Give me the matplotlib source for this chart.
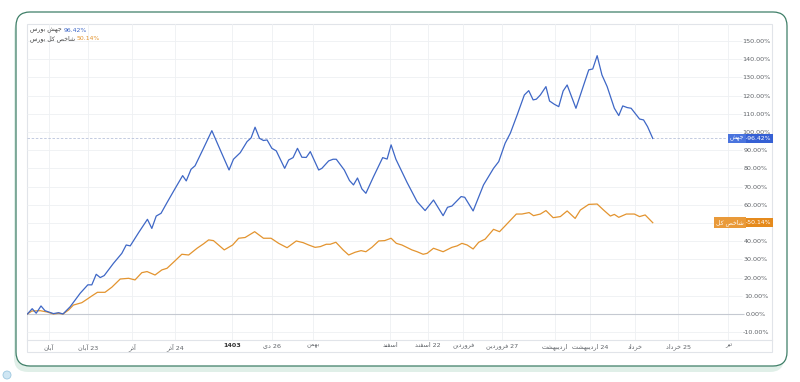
import matplotlib
matplotlib.use("Agg")
import matplotlib.pyplot as plt
from matplotlib.patches import FancyBboxPatch, Rectangle
import matplotlib.transforms as mtransforms

plt.rcParams['font.family'] = ['DejaVu Sans']

# ---------------- data (x = trading-bar index, y = % change) ----------------
jahesh_x = [0, 1.2, 2.2, 3.4, 4.4, 6.5, 7.8, 8.9, 10.7, 13.2, 15.1, 16.1, 17.2, 18.2, 19.2,
            21.5, 23.6, 24.7, 25.7, 27.8, 30.0, 31.1, 32.2, 33.4, 34.9, 36.7, 38.8, 39.7,
            40.9, 41.9, 43.9, 46.1, 48.2, 50.4, 51.5, 53.2, 54.9, 55.9, 56.9, 58.0, 59.0,
            59.9, 61.1, 62.2, 64.3, 65.3, 66.4, 67.5, 68.6, 69.7, 70.7, 72.8, 73.6, 75.3,
            76.4, 77.2, 79.2, 80.5, 81.5, 82.5, 83.6, 84.6, 86.5, 88.8, 89.9, 90.9, 92.1,
            94.9, 97.4, 99.4, 101.5, 103.9, 105.0, 106.1, 108.4, 109.3, 111.4, 114.0,
            116.5, 117.8, 119.4, 120.7, 122.4, 124.2, 125.3, 126.4, 127.2, 128.2, 129.6,
            130.5, 131.7, 132.8, 133.9, 134.9, 137.1, 138.9, 140.3, 141.3, 142.4, 143.6,
            144.9, 146.7, 147.8, 148.8, 149.9, 150.9, 153.0, 154.0, 155.0, 156.3]
jahesh_y = [0, 2.9, 0.4, 4.4, 1.8, 0.2, 0.7, 0, 4.0, 11.4, 16.0, 16.0, 21.8, 20.0, 21.1,
            27.8, 33.3, 37.9, 37.4, 44.7, 52.0, 47.0, 53.8, 55.3, 61.2, 68.1, 76.0, 73.1,
            79.5, 81.4, 90.5, 100.7, 90.1, 79.1, 85.0, 88.6, 94.7, 96.7, 102.6, 96.5, 95.3,
            95.6, 91.0, 89.6, 80.0, 84.6, 85.9, 91.0, 86.1, 86.0, 89.2, 79.1, 80.0, 84.1,
            85.0, 85.0, 79.1, 73.3, 70.9, 74.7, 68.7, 66.3, 75.4, 85.9, 85.1, 92.9, 85.0,
            72.2, 61.7, 56.8, 62.6, 54.0, 58.6, 59.3, 64.5, 64.1, 56.6, 70.9,
            80.0, 83.7, 93.8, 99.3, 109.3, 120.3, 122.7, 117.6, 118.0, 120.3, 124.9,
            117.0, 115.2, 113.9, 122.5, 125.8, 113.0, 124.9, 134.1, 134.6, 141.9, 131.3,
            124.9, 113.0, 109.0, 114.3, 113.4, 113.0, 107.1, 106.6, 102.9, 96.42]

shakhes_x = [0, 1.1, 3.2, 4.9, 6.5, 7.8, 8.9, 10.3, 11.5, 13.6, 14.9, 16.1, 17.5, 19.4,
             21.1, 23.2, 25.3, 26.9, 28.6, 29.9, 31.9, 33.6, 34.9, 36.7, 38.6, 40.3, 42.4,
             44.0, 45.3, 46.5, 49.2, 51.3, 52.8, 54.4, 56.8, 59.0, 60.9, 62.8, 64.9, 67.2,
             68.9, 70.3, 71.9, 73.2, 74.7, 75.7, 77.1, 78.9, 80.3, 81.9, 83.4, 84.6, 86.1,
             87.8, 89.3, 90.9, 92.2, 93.6, 96.1, 97.4, 98.9, 99.9, 101.5, 103.9, 106.1,
             107.4, 108.6, 109.9, 111.4, 112.8, 114.4, 116.5, 118.0, 119.4, 122.2, 123.6,
             125.4, 126.5, 128.2, 129.6, 131.4, 133.2, 134.9, 136.9, 138.2, 140.3, 142.4,
             144.0, 145.7, 146.7, 147.8, 149.7, 151.7, 153.0, 154.4, 156.3]
shakhes_y = [0, 1.6, 1.8, 1.1, 0, 0.4, 0, 2.2, 4.9, 6.2, 8.1, 9.9, 11.9, 11.9,
             14.7, 19.2, 19.6, 18.7, 22.7, 23.3, 21.4, 24.2, 25.1, 28.8, 32.8, 32.4, 36.1,
             38.5, 40.7, 40.3, 35.2, 37.9, 41.6, 42.0, 45.2, 41.6, 41.6, 38.8, 36.4, 40.1,
             39.2, 37.9, 36.6, 37.0, 38.3, 38.3, 39.4, 35.2, 32.4, 33.9, 34.8, 34.2, 36.6,
             40.1, 40.3, 41.6, 38.8, 37.9, 35.2, 34.2, 32.8, 33.3, 36.1, 34.2, 36.6,
             37.4, 38.8, 37.9, 35.7, 39.4, 41.1, 46.5, 45.2, 48.4, 54.9, 54.9,
             55.7, 54.0, 54.9, 56.8, 52.9, 53.5, 56.6, 52.5, 57.1, 60.2, 60.4,
             57.1, 53.8, 54.7, 53.1, 54.9, 54.9, 53.5, 54.4, 50.14]

tick_pos = [5.4, 15.2, 26.2, 36.9, 51.2, 61.2, 71.4, 90.7, 100.2, 108.9, 118.7, 131.9,
            140.7, 151.9, 162.7, 175.2]
tick_words = ['آبان', 'آبان', 'آذر', 'آذر', '', 'دی', 'بهمن', 'اسفند', 'اسفند', 'فروردین',
              'فروردین', 'اردیبهشت', 'اردیبهشت', 'خرداد', 'خرداد', 'تیر']
tick_nums = ['', '23', '', '24', '1403', '26', '', '', '22', '', '27', '', '24', '', '25', '']
y_ticks = [-10, 0, 10, 20, 30, 40, 50, 60, 70, 80, 90, 100, 110, 120, 130, 140, 150]
hidden_y_label = 50  # covered by the index badge in the reference

name1 = 'جهش بورس'
name2 = 'شاخص کل بورس'
short1 = 'جهش'
short2 = 'شاخص کل'
last1 = jahesh_y[-1]
last2 = shakhes_y[-1]

BLUE = '#3e67c6'
ORANGE = '#e3942f'

# ---------------- minimal Arabic/Persian shaping ----------------
FORMS = {
    'ا': (0xFE8D, 0xFE8E), 'آ': (0xFE81, 0xFE82), 'د': (0xFEA9, 0xFEAA),
    'ذ': (0xFEAB, 0xFEAC), 'ر': (0xFEAD, 0xFEAE), 'و': (0xFEED, 0xFEEE),
    'ب': (0xFE8F, 0xFE90, 0xFE91, 0xFE92), 'ت': (0xFE95, 0xFE96, 0xFE97, 0xFE98),
    'ج': (0xFE9D, 0xFE9E, 0xFE9F, 0xFEA0), 'خ': (0xFEA5, 0xFEA6, 0xFEA7, 0xFEA8),
    'س': (0xFEB1, 0xFEB2, 0xFEB3, 0xFEB4), 'ش': (0xFEB5, 0xFEB6, 0xFEB7, 0xFEB8),
    'ص': (0xFEB9, 0xFEBA, 0xFEBB, 0xFEBC), 'ف': (0xFED1, 0xFED2, 0xFED3, 0xFED4),
    'ک': (0xFB8E, 0xFB8F, 0xFB90, 0xFB91), 'ل': (0xFEDD, 0xFEDE, 0xFEDF, 0xFEE0),
    'م': (0xFEE1, 0xFEE2, 0xFEE3, 0xFEE4), 'ن': (0xFEE5, 0xFEE6, 0xFEE7, 0xFEE8),
    'ه': (0xFEE9, 0xFEEA, 0xFEEB, 0xFEEC), 'ی': (0xFBFC, 0xFBFD, 0xFBFE, 0xFBFF),
}


def shape(text):
    out = []
    n = len(text)
    for i, c in enumerate(text):
        if c not in FORMS:
            out.append(c)
            continue
        f = FORMS[c]
        prev = text[i - 1] if i > 0 else ''
        nxt = text[i + 1] if i < n - 1 else ''
        join_prev = prev in FORMS and len(FORMS[prev]) == 4
        join_next = len(f) == 4 and nxt in FORMS
        if join_prev and join_next:
            g = f[3]
        elif join_prev:
            g = f[1]
        elif join_next:
            g = f[2]
        else:
            g = f[0]
        out.append(chr(g))
    return ''.join(out)[::-1]


def rtl(word, num=''):
    if not word:
        return num
    s = shape(word)
    return s + (' ' + num if num else '')


# ---------------- figure ----------------
W, H = 800, 382
fig = plt.figure(figsize=(W / 100, H / 100), dpi=100)
fig.patch.set_facecolor('white')

bg = fig.add_axes([0, 0, 1, 1], zorder=0)
bg.set_xlim(0, W)
bg.set_ylim(H, 0)
bg.axis('off')
bg.add_patch(FancyBboxPatch((14, 18), 770, 354, boxstyle='round,pad=0,rounding_size=14',
                            facecolor='#d9ece3', edgecolor='none', alpha=0.8))
bg.add_patch(FancyBboxPatch((16, 12), 771, 354, boxstyle='round,pad=0,rounding_size=14',
                            facecolor='white', edgecolor='#3f7f68', linewidth=0.9))
bg.add_patch(Rectangle((27, 24), 745, 328, facecolor='white', edgecolor='#e1e4e9', linewidth=0.8))
bg.add_patch(plt.Circle((7, 375), 4, facecolor='#cfe6f3', edgecolor='#9cc8e0', linewidth=0.6))

L, R, T, B = 27, 772, 24, 340
ax = fig.add_axes([L / W, 1 - B / H, (R - L) / W, (B - T) / H], zorder=2)
ax.set_facecolor('none')
xmin, xmax = -0.1, 186.1
ymin, ymax = -14.3, 159.3
ax.set_xlim(xmin, xmax)
ax.set_ylim(ymin, ymax)

for s in ['top', 'left', 'right']:
    ax.spines[s].set_visible(False)
ax.spines['bottom'].set_color('#e1e4e9')
ax.spines['bottom'].set_linewidth(0.8)

# grid
grid_end = xmin + (742 - L) / (R - L) * (xmax - xmin)
for v in y_ticks:
    if v == 0:
        continue
    ax.hlines(v, xmin, grid_end, color='#eef0f3', linewidth=0.6, zorder=0)
ax.hlines(0, xmin, xmin + (744 - L) / (R - L) * (xmax - xmin), color='#c5c9d1',
          linewidth=0.8, zorder=1)
for p in tick_pos:
    ax.axvline(p, color='#eef0f3', linewidth=0.6, zorder=0)

# series
ax.plot(shakhes_x, shakhes_y, color=ORANGE, linewidth=0.9, zorder=3)
ax.plot(jahesh_x, jahesh_y, color=BLUE, linewidth=0.9, zorder=4)

# last value dashed line
ax.hlines(last1, xmin, xmin + (727 - L) / (R - L) * (xmax - xmin), color='#b9c3da',
          linewidth=0.6, linestyles=(0, (3, 2)), zorder=2)

# y tick labels inside on right
ax.yaxis.tick_right()
ax.set_yticks(y_ticks)
ax.set_yticklabels(['' if v == hidden_y_label else f'{v:.2f}%' for v in y_ticks])
ax.tick_params(axis='y', length=0, pad=-11.5, labelsize=4.6, labelcolor='#5f6368')
for tl in ax.get_yticklabels():
    tl.set_ha('center')

# x tick labels
ax.set_xticks(tick_pos)
ax.set_xticklabels([rtl(w, n) for w, n in zip(tick_words, tick_nums)])
ax.tick_params(axis='x', length=0, pad=2.5, labelsize=4.6, labelcolor='#5f6368')
for tl, n, w in zip(ax.get_xticklabels(), tick_nums, tick_words):
    if w == '':
        tl.set_fontweight('bold')
        tl.set_color('#333333')

# legend (top-left)
lx = (30 - L) / (R - L)
t1 = ax.text(lx, 1 - (30.5 - T) / (B - T), rtl(name1) + ' ', transform=ax.transAxes,
             fontsize=4.4, color='#444444', ha='left', va='center')
ax.annotate(f'{last1:.2f}%', xycoords=t1, xy=(1, 0.5), va='center', ha='left',
            fontsize=4.4, color=BLUE)
t2 = ax.text(lx, 1 - (38.5 - T) / (B - T), rtl(name2) + ' ', transform=ax.transAxes,
             fontsize=4.4, color='#444444', ha='left', va='center')
ax.annotate(f'{last2:.2f}%', xycoords=t2, xy=(1, 0.5), va='center', ha='left',
            fontsize=4.4, color=ORANGE)

# right-side last value badges
trans = mtransforms.blended_transform_factory(ax.transAxes, ax.transData)
vx = (771 - L) / (R - L)
nx = (744 - L) / (R - L)
for val, short, col, col2 in [(last1, short1, '#3560d4', '#4a74de'),
                              (last2, short2, '#e58a1c', '#e99a3a')]:
    ax.text(vx, val, f'+{val:.2f}%', transform=trans, ha='right', va='center',
            fontsize=4.4, color='white', zorder=6,
            bbox=dict(boxstyle='square,pad=0.3', facecolor=col, edgecolor='none'))
    ax.text(nx, val, rtl(short), transform=trans, ha='right', va='center',
            fontsize=4.4, color='white', zorder=6,
            bbox=dict(boxstyle='square,pad=0.3', facecolor=col2, edgecolor='none'))

fig.savefig('out.png', dpi=100, facecolor='white')
